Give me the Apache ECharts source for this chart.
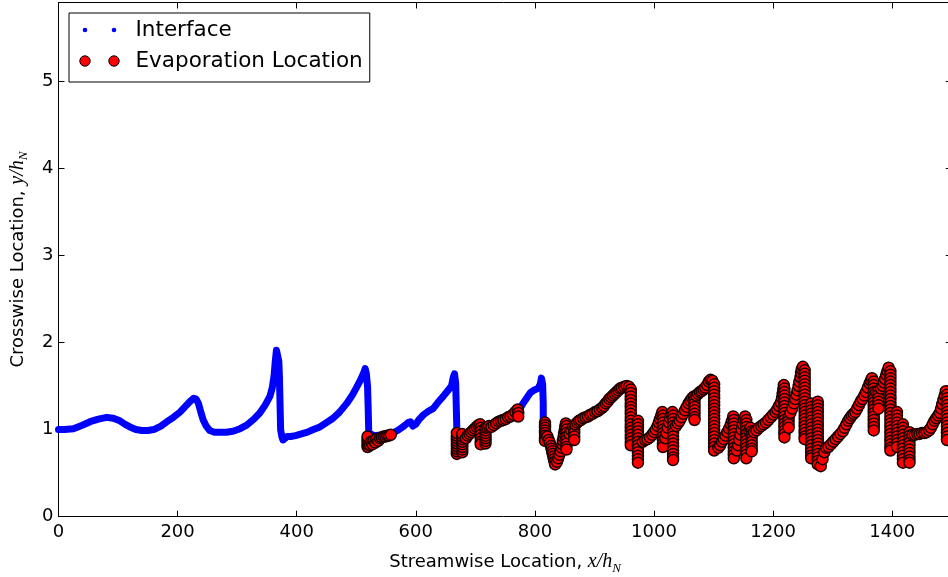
<!DOCTYPE html>
<html>
<head>
<meta charset="utf-8">
<script src="https://cdn.jsdelivr.net/npm/echarts@6/dist/echarts.min.js"></script>
<style>
  html, body { margin: 0; padding: 0; background: #fff; }
  #chart { width: 948px; height: 577px; }
</style>
</head>
<body>
<div id="chart"></div>
<script>
// Axis ticks
const xTicks = [0, 200, 400, 600, 800, 1000, 1200, 1400];
const yTicks = [0, 1, 2, 3, 4, 5];
const xLimit = [0, 1500];
const yLimit = [0, 5.9];

// Interface trace (x/h_N, y/h_N)
const interfacePts = [
  [0,1.00],[10,1.00],[25,1.01],[40,1.05],[53,1.09],[67,1.12],[81,1.14],[92,1.13],[103,1.10],[112,1.06],
  [120,1.03],[130,1.00],[140,0.99],[150,0.99],[160,1.00],[172,1.04],[182,1.09],[193,1.14],[204,1.20],[215,1.28],
  [222,1.33],[227,1.36],[231,1.35],[235,1.30],[239,1.20],[243,1.11],[248,1.04],[254,0.99],[262,0.97],[271,0.97],
  [282,0.97],[293,0.98],[305,1.01],[316,1.05],[328,1.12],[338,1.19],[347,1.28],[355,1.38],[359,1.48],[362,1.62],
  [364,1.78],[366,1.91],[368,1.90],[370,1.78],[371,1.60],[372,1.30],[373,1.00],[375,0.92],[377,0.88],[380,0.90],
  [384,0.92],[390,0.92],[398,0.93],[408,0.95],[418,0.97],[428,1.00],[439,1.03],[450,1.08],[461,1.13],[472,1.20],
  [484,1.30],[493,1.39],[501,1.49],[508,1.58],[513,1.66],[515,1.70],[517,1.64],[519,1.49],[520,1.25],[521,0.96],
  [530,0.93],[545,0.94],[562,0.96],[572,1.00],[580,1.04],[587,1.08],[591,1.09],[595,1.04],[600,1.06],[606,1.12],
  [613,1.17],[621,1.21],[629,1.24],[637,1.31],[646,1.38],[653,1.44],[660,1.50],[663,1.60],[665,1.64],[667,1.53],
  [668,1.25],[669,0.98],[680,0.95],[700,1.00],[720,1.03],[740,1.10],[760,1.16],[775,1.24],[780,1.30],[786,1.36],
  [792,1.42],[798,1.45],[805,1.47],[809,1.52],[811,1.59],[813,1.52],[814,1.30],[814,1.10]
];

// Evaporation locations: each entry is [x/h_N, [y/h_N values recorded at that x]]
const evaporationStacks = [
  [519,[0.80,0.83,0.86,0.89,0.92]],[523,[0.82]],[525,[0.86]],[527,[0.83]],[529,[0.87]],[532,[0.85]],[534,[0.89]],
  [537,[0.87]],[540,[0.90]],[543,[0.91]],[546,[0.92]],[549,[0.92]],[552,[0.93]],[555,[0.93]],[558,[0.94]],

  [669,[0.72,0.75,0.78,0.81,0.84,0.87,0.90,0.93,0.96]],
  [678,[0.74,0.77,0.80,0.83,0.86,0.89,0.92,0.95]],
  [684,[0.90]],[687,[0.93]],[690,[0.95]],[693,[0.97]],[696,[0.99]],[699,[1.01]],[702,[1.03]],[705,[1.05]],[708,[1.06]],
  [709,[1.02,0.98,0.94,0.90,0.86,0.83]],
  [717,[0.84,0.87,0.90,0.93,0.96,0.99,1.02]],[720,[1.03]],[723,[1.04]],
  [727,[1.03]],[731,[1.05]],[735,[1.07]],[739,[1.09]],[743,[1.10]],[747,[1.11]],[751,[1.12]],[755,[1.14]],
  [759,[1.15]],[763,[1.17]],[767,[1.20]],[771,[1.23]],[772,[1.19,1.15]],

  [817,[1.08,1.05,1.02,0.99,0.96,0.93,0.90,0.87]],
  [821,[0.92]],[823,[0.88]],[825,[0.85]],[827,[0.81]],[828,[0.78]],[829,[0.75]],[830,[0.72]],[831,[0.69]],
  [832,[0.66]],[833,[0.63]],[834,[0.60]],
  [837,[0.63]],[839,[0.67]],[841,[0.71]],[843,[0.75]],[845,[0.79]],[846,[0.83]],[847,[0.87]],[848,[0.91]],
  [849,[0.95]],[850,[0.99]],[851,[1.03]],[852,[1.07]],
  [853,[1.04,1.00,0.96,0.92,0.88,0.84,0.80,0.77]],
  [858,[0.95]],[861,[0.99]],[864,[1.03]],[866,[1.00,0.96,0.92,0.88]],
  [868,[1.06]],[871,[1.08]],[874,[1.10]],[877,[1.11]],[881,[1.13]],[885,[1.14]],[889,[1.15]],[893,[1.17]],
  [897,[1.18]],[901,[1.20]],[905,[1.21]],[909,[1.23]],[913,[1.25]],[916,[1.27]],[919,[1.30]],[922,[1.32]],
  [925,[1.35]],[928,[1.37]],[931,[1.39]],[934,[1.41]],[937,[1.43]],[940,[1.45]],[943,[1.47]],[946,[1.48]],
  [950,[1.49]],[954,[1.50]],[958,[1.49]],
  [961,[1.46,1.42,1.38,1.34,1.30,1.26,1.22,1.18,1.14,1.10,1.06,1.02,0.98,0.94,0.90,0.86,0.82]],
  [973,[1.10,1.06,1.02,0.98,0.94,0.90,0.86,0.82,0.78,0.74,0.70,0.66,0.62]],
  [981,[0.86]],[985,[0.88]],[989,[0.89]],[993,[0.91]],[997,[0.94]],[1000,[0.97]],[1003,[1.00]],[1006,[1.04]],
  [1008,[1.08]],[1010,[1.12]],[1012,[1.16]],[1014,[1.20]],
  [1015,[1.16,1.12,1.08,1.04,1.00,0.96,0.92,0.88,0.84,0.80]],
  [1019,[0.90]],[1021,[0.96]],[1023,[1.02]],[1025,[1.08]],[1027,[1.13]],[1029,[1.17]],[1031,[1.20]],
  [1032,[1.16,1.12,1.08,1.04,1.00,0.96,0.92,0.88,0.84,0.80,0.76,0.72,0.68,0.65]],
  [1037,[1.04]],[1040,[1.07]],[1043,[1.10]],[1046,[1.14]],[1049,[1.18]],[1052,[1.22]],[1055,[1.26]],[1058,[1.30]],
  [1061,[1.33]],[1064,[1.36]],[1067,[1.38]],
  [1068,[1.34,1.30,1.26,1.22,1.18,1.14,1.11]],
  [1071,[1.39]],[1074,[1.41]],[1077,[1.43]],[1080,[1.44]],[1083,[1.46]],[1086,[1.48]],[1089,[1.51]],[1092,[1.55]],
  [1095,[1.57]],[1098,[1.56]],
  [1101,[1.52,1.48,1.44,1.40,1.36,1.32,1.28,1.24,1.20,1.16,1.12,1.08,1.04,1.00,0.96,0.92,0.88,0.84,0.80,0.76]],
  [1108,[0.79]],[1111,[0.82]],[1114,[0.86]],[1117,[0.89]],[1120,[0.93]],[1123,[0.97]],[1126,[1.01]],[1129,[1.06]],
  [1131,[1.10]],[1133,[1.15]],
  [1134,[1.11,1.07,1.03,0.99,0.95,0.91,0.87,0.83,0.79,0.75,0.71,0.67]],
  [1139,[0.76]],[1141,[0.82]],[1143,[0.88]],[1145,[0.94]],[1147,[1.00]],[1149,[1.06]],[1151,[1.11]],[1153,[1.15]],
  [1155,[1.11,1.07,1.03,0.99,0.95,0.91,0.87,0.83,0.79,0.75,0.71,0.67]],
  [1160,[0.98]],[1162,[1.02]],
  [1164,[0.98,0.94,0.90,0.86,0.82,0.78,0.75]],
  [1168,[0.97]],[1172,[0.99]],[1176,[1.02]],[1180,[1.04]],[1184,[1.06]],[1188,[1.08]],[1192,[1.11]],[1196,[1.14]],
  [1200,[1.17]],[1204,[1.20]],[1207,[1.23]],[1210,[1.27]],[1213,[1.31]],[1215,[1.36]],[1216,[1.41]],[1217,[1.46]],
  [1218,[1.51]],
  [1219,[1.47,1.43,1.39,1.35,1.31,1.27,1.23,1.19,1.15,1.11,1.07,1.03,0.99,0.95,0.91]],
  [1226,[1.14,1.10,1.06,1.02]],
  [1229,[1.19]],[1232,[1.24]],[1235,[1.30]],[1237,[1.35]],[1239,[1.40]],[1241,[1.45]],[1243,[1.50]],
  [1244,[1.55]],[1246,[1.60]],[1247,[1.65]],[1248,[1.69]],[1250,[1.72]],
  [1253,[1.68,1.64,1.60,1.56,1.52,1.48,1.44,1.40,1.36,1.32,1.28,1.24,1.20,1.16,1.12,1.08,1.04,1.00,0.96,0.92,0.89]],
  [1264,[1.30,1.26,1.22,1.18,1.14,1.10,1.06,1.02,0.98,0.94,0.90,0.86,0.82,0.78,0.74,0.70,0.67]],
  [1275,[1.32,1.28,1.24,1.20,1.16,1.12,1.08,1.04,1.00,0.96,0.92,0.88,0.84,0.80,0.76,0.72,0.68,0.64,0.60]],
  [1280,[0.58]],[1283,[0.66]],[1286,[0.74]],[1289,[0.79]],[1293,[0.80]],[1297,[0.83]],[1301,[0.86]],[1305,[0.89]],
  [1309,[0.92]],[1313,[0.95]],[1317,[0.98]],[1320,[1.02]],[1323,[1.06]],[1326,[1.10]],[1329,[1.13]],[1332,[1.16]],
  [1335,[1.18]],[1338,[1.20]],[1341,[1.24]],[1344,[1.28]],[1347,[1.32]],[1350,[1.35]],[1353,[1.39]],[1356,[1.43]],
  [1359,[1.48]],[1362,[1.53]],[1364,[1.56]],[1366,[1.59]],
  [1369,[1.55,1.51,1.47,1.43,1.39,1.35,1.31,1.27,1.23,1.19,1.15,1.11,1.07,1.03,0.99]],
  [1373,[1.43]],[1377,[1.45,1.40,1.36,1.32,1.28,1.24]],
  [1381,[1.47]],[1384,[1.50]],[1386,[1.54]],[1388,[1.58]],[1390,[1.63]],[1392,[1.67]],
  [1394,[1.71]],
  [1397,[1.67,1.63,1.59,1.55,1.51,1.47,1.43,1.39,1.35,1.31,1.27,1.23,1.19,1.15,1.11,1.07,1.03,0.99,0.95,0.91,0.87,0.83,0.79,0.76]],
  [1408,[1.20,1.16,1.12,1.08,1.04,1.00,0.96,0.92,0.88,0.84,0.80]],
  [1418,[1.06,1.02,0.98,0.94,0.90,0.86,0.82,0.78,0.74,0.70,0.66,0.62]],
  [1429,[0.97,0.93,0.89,0.85,0.81,0.77,0.73,0.69,0.65,0.62]],
  [1434,[0.94]],[1438,[0.94]],[1442,[0.95]],[1446,[0.95]],[1450,[0.96]],[1454,[0.96]],[1458,[0.97]],[1462,[0.99]],
  [1465,[1.02]],[1468,[1.06]],[1471,[1.10]],[1474,[1.13]],[1477,[1.16]],[1480,[1.19]],[1482,[1.24]],[1484,[1.29]],
  [1486,[1.34]],[1488,[1.39]],[1490,[1.44]],
  [1492,[1.40,1.36,1.32,1.28,1.24,1.20,1.16,1.12,1.08,1.04,1.00,0.96,0.92,0.88]]
];
const evaporationPts = [];
evaporationStacks.forEach(([x, ys]) => ys.forEach(y => evaporationPts.push([x, y])));

const seriesNames = ['Interface', 'Evaporation Location'];

// Legend keys: two markers per entry; the extra moveTo points fix the icon box
const circle = (cx, cy, r) =>
  `M${cx - r} ${cy} a${r} ${r} 0 1 0 ${2 * r} 0 a${r} ${r} 0 1 0 ${-2 * r} 0 Z `;
const smallDots = 'path://M0 0 M51 11 ' + circle(5.5, 5.5, 2.3) + circle(34.5, 5.5, 2.3);
const bigDots = 'path://M0 0 M51 11 ' + circle(5.5, 5.5, 5.2) + circle(34.5, 5.5, 5.2);

const FONT = 'DejaVu Sans';
const mathRich = {
  t: { fontFamily: FONT, fontSize: 18, color: '#000', lineHeight: 22 },
  m: { fontFamily: 'Liberation Serif', fontStyle: 'italic', fontSize: 20, color: '#000', lineHeight: 22 },
  s: { fontFamily: 'Liberation Serif', fontStyle: 'italic', fontSize: 13, color: '#000', padding: [12, 0, 0, 0] }
};

const spine = { show: true, onZero: false, lineStyle: { color: '#000', width: 1 } };
const innerTick = { show: true, inside: true, length: 6, lineStyle: { color: '#000', width: 1 } };
const tickLabel = { fontFamily: FONT, fontSize: 18, color: '#000', lineHeight: 18, showMaxLabel: false };

const xInterval = xTicks[1] - xTicks[0];
const yInterval = yTicks[1] - yTicks[0];

const chart = echarts.init(document.getElementById('chart'), null, { renderer: 'canvas' });
chart.setOption({
  animation: false,
  backgroundColor: '#fff',
  grid: {
    left: 58.5, right: -3.75, top: 2.5, bottom: 60.3,
    containLabel: false, outerBoundsMode: 'none',
    show: true, backgroundColor: '#fff', borderWidth: 0
  },
  legend: {
    orient: 'vertical',
    left: 69, top: 13,
    padding: [6, 7, 10, 10],
    itemGap: 9,
    itemWidth: 51, itemHeight: 11,
    borderColor: '#000', borderWidth: 1, borderRadius: 0,
    backgroundColor: '#fff',
    selectedMode: false,
    textStyle: { fontFamily: FONT, fontSize: 21.5, color: '#000', lineHeight: 22 },
    data: [
      { name: seriesNames[0], icon: smallDots, itemStyle: { color: '#0000ff', borderWidth: 0 } },
      { name: seriesNames[1], icon: bigDots, itemStyle: { color: '#ff0000', borderColor: '#000', borderWidth: 1 } }
    ]
  },
  xAxis: [
    {
      type: 'value', position: 'bottom',
      min: xLimit[0], max: xLimit[1], interval: xInterval,
      axisLine: spine, axisTick: innerTick,
      axisLabel: Object.assign({ margin: 7, formatter: v => xTicks.includes(v) ? String(v) : '' }, tickLabel),
      splitLine: { show: false },
      name: '{t|Streamwise Location, }{m|x/h}{s|N}',
      nameLocation: 'middle', nameGap: 33,
      nameTextStyle: { rich: mathRich }
    },
    {
      type: 'value', position: 'top',
      min: xLimit[0], max: xLimit[1], interval: xInterval,
      axisLine: spine, axisTick: innerTick,
      axisLabel: { show: false }, splitLine: { show: false }
    }
  ],
  yAxis: [
    {
      type: 'value', position: 'left',
      min: yLimit[0], max: yLimit[1], interval: yInterval,
      axisLine: spine, axisTick: innerTick,
      axisLabel: Object.assign({ margin: 5, formatter: v => yTicks.includes(v) ? String(v) : '' }, tickLabel),
      splitLine: { show: false },
      name: '{t|Crosswise Location, }{m|y/h}{s|N}',
      nameLocation: 'middle', nameGap: 28, nameRotate: 90,
      nameTextStyle: { rich: mathRich }
    },
    {
      type: 'value', position: 'right',
      min: yLimit[0], max: yLimit[1], interval: yInterval,
      axisLine: spine, axisTick: innerTick,
      axisLabel: { show: false }, splitLine: { show: false }
    }
  ],
  series: [
    {
      name: seriesNames[0],
      type: 'line',
      xAxisIndex: 0, yAxisIndex: 0,
      data: interfacePts,
      showSymbol: false, symbol: 'none',
      itemStyle: { color: '#0000ff' },
      lineStyle: { color: '#0000ff', width: 7, cap: 'round', join: 'round' },
      z: 2
    },
    {
      name: seriesNames[1],
      type: 'scatter',
      xAxisIndex: 0, yAxisIndex: 0,
      data: evaporationPts,
      symbol: 'circle', symbolSize: 11,
      itemStyle: { color: '#ff0000', borderColor: '#1a0000', borderWidth: 1.5, opacity: 1 },
      z: 3
    }
  ]
});
</script>
</body>
</html>
